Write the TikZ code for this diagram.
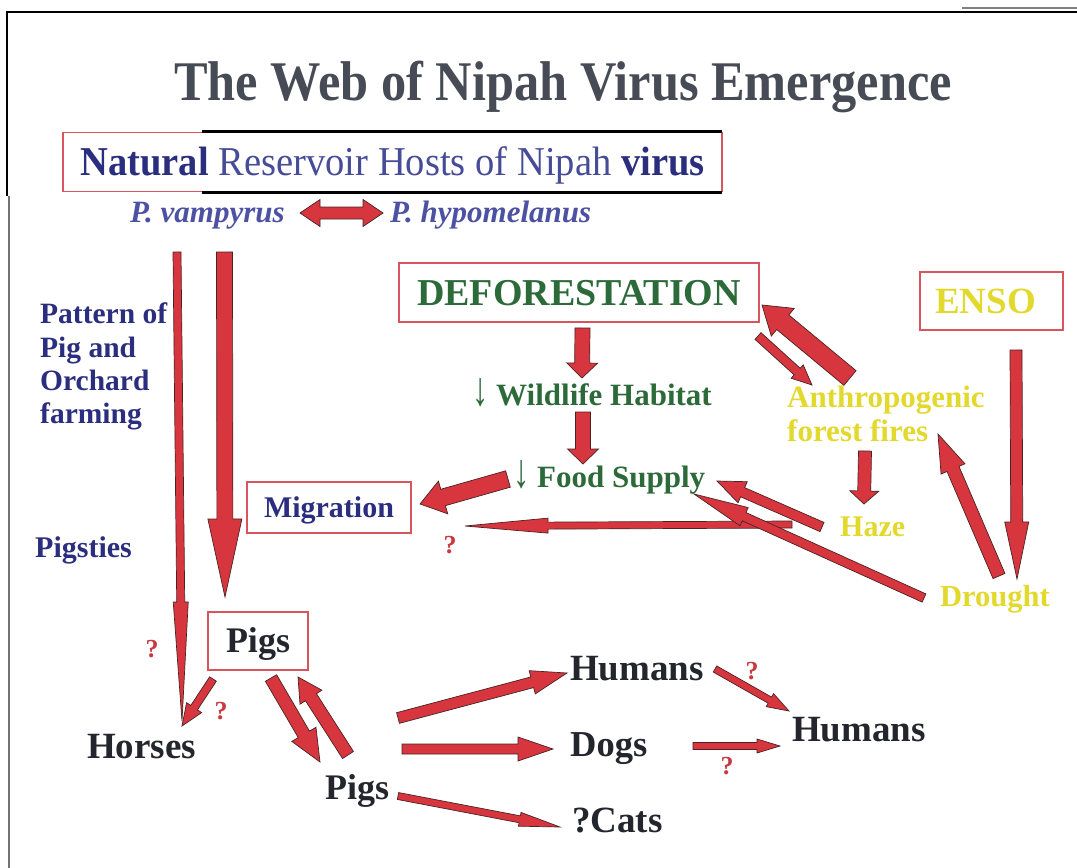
\documentclass[tikz,border=0pt]{standalone}
\usepackage{fontspec}
\setmainfont{Liberation Serif}
\usepackage{graphicx}
\usetikzlibrary{calc}
\definecolor{arrowred}{HTML}{D8363F}
\definecolor{arrowedge}{HTML}{4A2323}
\definecolor{boxred}{HTML}{D9555E}
\definecolor{navy}{HTML}{2B2E7E}
\definecolor{lnavy}{HTML}{474C98}
\definecolor{vblue}{HTML}{4D51A4}
\definecolor{dgreen}{HTML}{2D6A3A}
\definecolor{dyellow}{HTML}{E3D92C}
\definecolor{dark}{HTML}{24252D}
\definecolor{titlegrey}{HTML}{474B55}
\definecolor{qred}{HTML}{C73A40}
\newcommand\fs[1]{\fontsize{#1}{#1}\selectfont}
\newcommand\dnarrow{\textmd{\raisebox{-0.5pt}{\scalebox{1.05}[1.55]{↓}}}}
% block arrow: [style]{from}{to}{shaft width}{head width}{head length}
\newcommand\blockarr[6][]{%
  \pgfmathsetlengthmacro\bsw{#4/2}%
  \pgfmathsetlengthmacro\bhw{#5/2}%
  \path ($(#3)!#6pt!(#2)$) coordinate (bahd);
  \draw[blockarrow,#1] ($(#2)!\bsw!90:(#3)$) -- ($(bahd)!\bsw!90:(#3)$) -- ($(bahd)!\bhw!90:(#3)$) -- (#3)
    -- ($(bahd)!\bhw!-90:(#3)$) -- ($(bahd)!\bsw!-90:(#3)$) -- ($(#2)!\bsw!-90:(#3)$) -- cycle;}
% double-headed block arrow
\newcommand\dblarr[6][]{%
  \pgfmathsetlengthmacro\bsw{#4/2}%
  \pgfmathsetlengthmacro\bhw{#5/2}%
  \path ($(#2)!#6pt!(#3)$) coordinate (dah) ($(#3)!#6pt!(#2)$) coordinate (dbh);
  \draw[blockarrow,#1] (#2) -- ($(dah)!\bhw!90:(#3)$) -- ($(dah)!\bsw!90:(#3)$) -- ($(dbh)!\bsw!90:(#3)$)
    -- ($(dbh)!\bhw!90:(#3)$) -- (#3) -- ($(dbh)!\bhw!-90:(#3)$) -- ($(dbh)!\bsw!-90:(#3)$)
    -- ($(dah)!\bsw!-90:(#3)$) -- ($(dah)!\bhw!-90:(#3)$) -- cycle;}
\tikzset{
  txt/.style={inner sep=0pt, anchor=base west},
  frame/.style={draw=boxred, line width=1.3pt, inner sep=0pt, text depth=0pt},
  blockarrow/.style={fill=arrowred, draw=arrowedge, line width=0.7pt, line join=miter},
  qm/.style={inner sep=0pt, text=qred, font=\fs{26}\bfseries},
  navytxt/.style={txt, text=navy, font=\fs{29.5}\bfseries},
  greentxt/.style={txt, text=dgreen, font=\fs{31}\bfseries},
  yellowtxt/.style={txt, text=dyellow, font=\fs{31}\bfseries},
  animal/.style={txt, text=dark, font=\fs{37}\bfseries},
}
\begin{document}
\begin{tikzpicture}[x=1pt,y=-1pt]
\useasboundingbox (0,0) rectangle (1077,868);
\fill[white] (0,0) rectangle (1077,868);
% page frame
\draw[line width=2pt] (1077,12) -- (7,12) -- (7,196);
\draw[line width=1.3pt, black!55] (9,196) -- (9,868);
\draw[line width=1.5pt, black!50] (962,8) -- (1077,8);

% title
\node[txt, text=titlegrey] (title) at (174,100) {\scalebox{0.9}[1]{\fs{56}\bfseries The Web of Nipah Virus Emergence}};

% natural reservoir box
\node[frame, minimum width=659pt, minimum height=59.5pt, text height=27pt] (natbox) at (392.5,162)
  {\scalebox{0.94}[1]{\fs{41}\textcolor{navy}{\bfseries Natural} \textcolor{lnavy}{Reservoir Hosts of Nipah} \textcolor{navy}{\bfseries virus}}};
\draw[line width=2.6pt] ([xshift=140pt]natbox.north west) -- ([xshift=-0.6pt]natbox.north east);
\draw[line width=2.6pt] ([xshift=140pt]natbox.south west) -- ([xshift=-0.6pt]natbox.south east);

% bats
\node[txt, text=vblue, font=\fs{31}\bfseries\itshape] (vamp) at (130,222) {P. vampyrus};
\node[txt, text=vblue, font=\fs{31}\bfseries\itshape] (hypo) at (390,222) {P. hypomelanus};

% left column
\node[navytxt] (pat1) at (40,323) {Pattern of};
\node[navytxt] (pat2) at (40,357) {Pig and};
\node[navytxt] (pat3) at (40,390) {Orchard};
\node[navytxt] (pat4) at (40,423) {farming};
\node[navytxt, font=\fs{30}\bfseries] (sties) at (35,557) {Pigsties};

% boxes
\node[frame, minimum width=360pt, minimum height=59pt, text height=25pt, text=dgreen, font=\fs{38}\bfseries] (defo) at (579,292.5) {DEFORESTATION};
\node[frame, minimum width=143pt, minimum height=58pt, text height=25pt, text=dyellow, font=\fs{37}\bfseries] (enso) at (991.5,301) {ENSO\hspace*{12pt}};
\node[frame, minimum width=164pt, minimum height=51pt, text height=19pt, text=navy, font=\fs{30}\bfseries] (migr) at (329,507.5) {Migration};
\node[frame, minimum width=100pt, minimum height=58pt, text height=23pt, text=dark, font=\fs{36}\bfseries] (pigsA) at (258,641) {Pigs};

% green / yellow labels
\node[greentxt] (wild) at (472,405) {\dnarrow\ Wildlife Habitat};
\node[greentxt] (food) at (513,487) {\dnarrow\ Food Supply};
\node[yellowtxt] (anthro) at (787,407) {Anthropogenic};
\node[yellowtxt] (fires) at (787,441) {forest fires};
\node[yellowtxt, font=\fs{30}\bfseries] (haze) at (840,536) {Haze};
\node[yellowtxt, font=\fs{30.5}\bfseries] (drought) at (940,606) {Drought};

% animals
\node[animal] (horses) at (87,758) {Horses};
\node[animal, font=\fs{36}\bfseries] (pigsB) at (325,799) {Pigs};
\node[animal] (humA) at (570,680) {Humans};
\node[animal, font=\fs{36.5}\bfseries] (dogs) at (570,756) {Dogs};
\node[animal] (cats) at (572,832) {?Cats};
\node[animal] (humB) at (792,741) {Humans};

% question marks
\node[qm] (q1) at (450,545) {?};
\node[qm] (q2) at (152,649) {?};
\node[qm] (q3) at (221,711) {?};
\node[qm] (q4) at (752,671) {?};
\node[qm] (q5) at (727,766) {?};

% connector end points
\coordinate (vampE) at (300,213);
\coordinate (hypoW) at (383,213);
\coordinate (thinT) at (177,252);
\coordinate (thinB) at (182,721);
\coordinate (thickT) at (224.5,252);
\coordinate (thickB) at (225,597);
\coordinate (defoS) at (582.5,328);
\coordinate (wildN) at (582,378);
\coordinate (wildS) at (583,412);
\coordinate (foodN) at (583,464);
\coordinate (foodW) at (508,479);
\coordinate (migrE) at (420,504);
\coordinate (hazeT) at (792,524.5);
\coordinate (qmR) at (465,526);
\coordinate (firesS) at (865,451);
\coordinate (hazeN) at (864,504);
\coordinate (hazeW) at (822,527);
\coordinate (foodE1) at (717,481);
\coordinate (droughtW) at (924,598);
\coordinate (foodE2) at (694,494);
\coordinate (ensoS) at (1016,350);
\coordinate (droughtN) at (1017,579);
\coordinate (droughtNW) at (999,576);
\coordinate (firesE) at (938,434);
\coordinate (anthroN) at (850,378);
\coordinate (defoE) at (762,305);
\coordinate (defoSE) at (758,336);
\coordinate (anthroNW) at (812,385);
\coordinate (pigsAsw) at (213,679);
\coordinate (horsesNE) at (182,726);
\coordinate (pigsAs) at (271,678);
\coordinate (pigsBn) at (320,762);
\coordinate (pigsBne) at (348,755);
\coordinate (pigsAse) at (298,677);
\coordinate (pigsBe1) at (398,718);
\coordinate (humAw) at (567,673);
\coordinate (pigsBe2) at (402,749);
\coordinate (dogsW) at (553,749);
\coordinate (pigsBe3) at (398,796);
\coordinate (catsW) at (560,827);
\coordinate (humAe) at (715,669);
\coordinate (humBnw) at (789,711);
\coordinate (dogsE) at (693,746);
\coordinate (humBw) at (780,746);

% connectors
\dblarr{vampE}{hypoW}{12}{27}{20}
\blockarr{thinT}{thinB}{8}{15}{119}
\blockarr{thickT}{thickB}{16}{34}{78}
\blockarr{defoS}{wildN}{15}{31}{15}
\blockarr{wildS}{foodN}{15}{31}{15}
\blockarr{foodW}{migrE}{17}{34}{24}
\blockarr{hazeT}{qmR}{7}{15}{83}
\blockarr{firesS}{hazeN}{13}{29}{13}
\blockarr{hazeW}{foodE1}{10}{23}{28}
\blockarr{droughtW}{foodE2}{9}{20}{55}
\blockarr{ensoS}{droughtN}{12}{24}{57}
\blockarr{droughtNW}{firesE}{13}{26}{38}
\blockarr{anthroN}{defoE}{19}{36}{27}
\blockarr{defoSE}{anthroNW}{9}{18}{20}
\blockarr{pigsAsw}{horsesNE}{8}{18}{22}
\blockarr{pigsAs}{pigsBn}{13}{28}{32}
\blockarr{pigsBne}{pigsAse}{13}{26}{24}
\blockarr{pigsBe1}{humAw}{11}{24}{36}
\blockarr{pigsBe2}{dogsW}{10}{24}{35}
\blockarr{pigsBe3}{catsW}{7}{14}{41}
\blockarr{humAe}{humBnw}{7}{15}{22}
\blockarr{dogsE}{humBw}{7}{14}{23}
\end{tikzpicture}
\end{document}
